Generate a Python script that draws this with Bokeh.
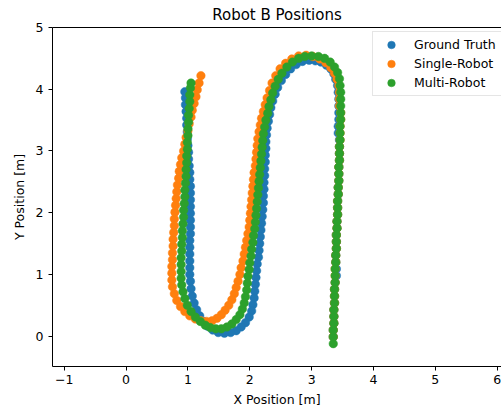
from bokeh.plotting import figure
from bokeh.models import (ColumnDataSource, Legend, LegendItem, LinearAxis,
                          FixedTicker, Range1d)
from bokeh.embed import file_html
from bokeh.resources import INLINE

title_text = "Robot B Positions"
x_label = "X Position [m]"
y_label = "Y Position [m]"
series_names = ["Ground Truth", "Single-Robot", "Multi-Robot"]
series_colors = ["#1f77b4", "#ff7f0e", "#2ca02c"]
x_ticks = [-1, 0, 1, 2, 3, 4, 5, 6]
y_ticks = [0, 1, 2, 3, 4, 5]

# Ground Truth (blue)
gt_points = [
    (3.35, -0.01), (3.35, 0.10), (3.36, 0.21), (3.36, 0.32), (3.36, 0.43), (3.37, 0.54),
    (3.37, 0.65), (3.37, 0.76), (3.38, 0.87), (3.40, 0.98), (3.40, 1.09), (3.39, 1.20),
    (3.39, 1.31), (3.40, 1.42), (3.40, 1.53), (3.40, 1.64), (3.41, 1.75), (3.41, 1.86),
    (3.42, 1.97), (3.42, 2.08), (3.42, 2.19), (3.43, 2.30), (3.43, 2.41), (3.44, 2.52),
    (3.44, 2.63), (3.44, 2.74), (3.45, 2.85), (3.45, 2.96), (3.45, 3.07), (3.45, 3.18),
    (3.43, 3.29), (3.43, 3.40), (3.44, 3.51), (3.44, 3.62), (3.44, 3.73), (3.44, 3.84),
    (3.43, 3.95), (3.42, 4.06),
    (3.39, 4.16), (3.36, 4.25), (3.31, 4.33), (3.24, 4.39), (3.15, 4.44), (3.06, 4.46),
    (2.96, 4.47), (2.85, 4.45), (2.75, 4.40), (2.66, 4.33), (2.58, 4.24), (2.51, 4.14),
    (2.45, 4.03), (2.41, 3.92), (2.37, 3.81),
    (2.34, 3.70), (2.32, 3.59), (2.30, 3.48), (2.28, 3.37), (2.27, 3.26), (2.26, 3.15),
    (2.26, 3.04), (2.25, 2.93), (2.25, 2.82), (2.24, 2.71), (2.24, 2.60), (2.23, 2.49),
    (2.23, 2.38), (2.22, 2.27), (2.22, 2.16), (2.21, 2.05), (2.20, 1.94), (2.19, 1.83),
    (2.18, 1.72), (2.17, 1.61), (2.16, 1.50), (2.15, 1.39), (2.14, 1.28), (2.12, 1.17),
    (2.11, 1.06), (2.10, 0.95), (2.09, 0.84), (2.08, 0.73), (2.07, 0.62), (2.05, 0.51),
    (2.03, 0.41),
    (1.99, 0.31), (1.93, 0.22), (1.86, 0.15), (1.78, 0.09), (1.69, 0.06), (1.59, 0.05),
    (1.49, 0.06), (1.40, 0.10), (1.32, 0.16), (1.25, 0.24), (1.19, 0.33), (1.14, 0.43),
    (1.10, 0.54), (1.07, 0.65), (1.05, 0.77), (1.04, 0.89),
    (1.03, 1.00), (1.03, 1.11), (1.03, 1.22), (1.03, 1.33), (1.03, 1.44), (1.03, 1.55),
    (1.04, 1.66), (1.04, 1.77), (1.04, 1.88), (1.04, 1.99), (1.04, 2.10), (1.04, 2.21),
    (1.04, 2.32), (1.04, 2.43), (1.03, 2.54), (1.03, 2.65), (1.02, 2.76), (1.01, 2.87),
    (1.01, 2.98), (1.00, 3.09), (0.99, 3.20), (0.99, 3.31), (0.98, 3.42), (0.98, 3.53),
    (0.97, 3.64), (0.96, 3.75), (0.96, 3.86), (0.95, 3.96),
]

# Single-Robot (orange)
sr_points = [
    (3.35, -0.01), (3.35, 0.10), (3.36, 0.21), (3.36, 0.32), (3.36, 0.43), (3.37, 0.54),
    (3.37, 0.65), (3.37, 0.76), (3.38, 0.87), (3.38, 0.98), (3.38, 1.09), (3.39, 1.20),
    (3.39, 1.31), (3.40, 1.42), (3.40, 1.53), (3.40, 1.64), (3.41, 1.75), (3.41, 1.86),
    (3.42, 1.97), (3.42, 2.08), (3.42, 2.19), (3.43, 2.30), (3.43, 2.41), (3.44, 2.52),
    (3.44, 2.63), (3.44, 2.74), (3.45, 2.85), (3.45, 2.96), (3.45, 3.07), (3.46, 3.18),
    (3.46, 3.29), (3.46, 3.40), (3.47, 3.51), (3.47, 3.62), (3.45, 3.73), (3.45, 3.84),
    (3.45, 3.95), (3.44, 4.06),
    (3.41, 4.16), (3.37, 4.26), (3.31, 4.35), (3.23, 4.43), (3.13, 4.49), (3.02, 4.53),
    (2.91, 4.55), (2.79, 4.54), (2.68, 4.49), (2.58, 4.42), (2.49, 4.33), (2.42, 4.22),
    (2.36, 4.10), (2.32, 3.98), (2.28, 3.86),
    (2.25, 3.75), (2.22, 3.64), (2.19, 3.53), (2.17, 3.42), (2.15, 3.31), (2.13, 3.20),
    (2.12, 3.09), (2.11, 2.98), (2.10, 2.87), (2.09, 2.76), (2.07, 2.65), (2.06, 2.54),
    (2.05, 2.43), (2.04, 2.32), (2.03, 2.21), (2.02, 2.10), (2.01, 1.99), (2.00, 1.88),
    (1.99, 1.77), (1.97, 1.66), (1.95, 1.55), (1.93, 1.44), (1.91, 1.33), (1.89, 1.22),
    (1.86, 1.11), (1.84, 1.00), (1.81, 0.89), (1.78, 0.79), (1.75, 0.69), (1.71, 0.59),
    (1.66, 0.50),
    (1.60, 0.42), (1.54, 0.35), (1.47, 0.29), (1.39, 0.25), (1.30, 0.24), (1.21, 0.25),
    (1.12, 0.28), (1.03, 0.33), (0.95, 0.40), (0.88, 0.48), (0.82, 0.58), (0.78, 0.69),
    (0.75, 0.80), (0.74, 0.91),
    (0.74, 1.02), (0.74, 1.13), (0.75, 1.24), (0.75, 1.35), (0.76, 1.46), (0.76, 1.57),
    (0.77, 1.68), (0.78, 1.79), (0.78, 1.90), (0.79, 2.01), (0.80, 2.12), (0.81, 2.23),
    (0.82, 2.34), (0.83, 2.45), (0.85, 2.56), (0.86, 2.67), (0.88, 2.78), (0.90, 2.89),
    (0.93, 3.00), (0.95, 3.11), (0.97, 3.22), (1.00, 3.33), (1.02, 3.44), (1.05, 3.55),
    (1.07, 3.66), (1.10, 3.77), (1.13, 3.88), (1.15, 3.99), (1.18, 4.10), (1.21, 4.22),
]

# Multi-Robot (green)
mr_points = [
    (3.35, -0.12), (3.35, -0.01), (3.35, 0.10), (3.36, 0.21), (3.36, 0.32), (3.36, 0.43),
    (3.37, 0.54), (3.37, 0.65), (3.37, 0.76), (3.38, 0.87), (3.38, 0.98), (3.38, 1.09),
    (3.39, 1.20), (3.39, 1.31), (3.40, 1.42), (3.40, 1.53), (3.40, 1.64), (3.41, 1.75),
    (3.41, 1.86), (3.42, 1.97), (3.42, 2.08), (3.42, 2.19), (3.43, 2.30), (3.43, 2.41),
    (3.44, 2.52), (3.44, 2.63), (3.44, 2.74), (3.45, 2.85), (3.45, 2.96), (3.45, 3.07),
    (3.46, 3.18), (3.46, 3.29), (3.46, 3.40), (3.47, 3.51), (3.47, 3.62), (3.47, 3.73),
    (3.47, 3.84), (3.47, 3.95), (3.46, 4.06),
    (3.45, 4.17), (3.42, 4.27), (3.37, 4.36), (3.30, 4.44), (3.21, 4.50), (3.11, 4.53),
    (3.00, 4.54), (2.89, 4.53), (2.79, 4.50), (2.69, 4.44), (2.60, 4.36), (2.52, 4.26),
    (2.46, 4.16), (2.41, 4.05), (2.37, 3.94), (2.34, 3.83),
    (2.31, 3.72), (2.29, 3.61), (2.26, 3.50), (2.24, 3.39), (2.22, 3.28), (2.21, 3.17),
    (2.20, 3.06), (2.19, 2.95), (2.18, 2.84), (2.17, 2.73), (2.16, 2.62), (2.15, 2.51),
    (2.14, 2.40), (2.13, 2.29), (2.12, 2.18), (2.11, 2.07), (2.10, 1.96), (2.09, 1.85),
    (2.08, 1.74), (2.06, 1.63), (2.05, 1.52), (2.03, 1.41), (2.02, 1.30), (2.00, 1.19),
    (1.99, 1.08), (1.97, 0.97), (1.96, 0.86), (1.95, 0.75), (1.93, 0.64), (1.91, 0.54),
    (1.88, 0.44),
    (1.84, 0.35), (1.78, 0.27), (1.71, 0.20), (1.63, 0.15), (1.54, 0.12), (1.45, 0.12),
    (1.36, 0.14), (1.28, 0.18), (1.20, 0.24), (1.12, 0.31), (1.05, 0.40), (0.99, 0.50),
    (0.95, 0.61), (0.92, 0.72), (0.90, 0.83), (0.89, 0.94),
    (0.89, 1.05), (0.89, 1.16), (0.89, 1.27), (0.90, 1.38), (0.90, 1.49), (0.91, 1.60),
    (0.91, 1.71), (0.92, 1.82), (0.93, 1.93), (0.93, 2.04), (0.94, 2.15), (0.95, 2.26),
    (0.95, 2.37), (0.96, 2.48), (0.97, 2.59), (0.97, 2.70), (0.98, 2.81), (0.98, 2.92),
    (0.99, 3.03), (0.99, 3.14), (1.00, 3.25), (1.00, 3.36), (1.01, 3.47), (1.01, 3.58),
    (1.02, 3.69), (1.03, 3.80), (1.03, 3.91), (1.04, 4.02), (1.05, 4.10),
]

series_points = [gt_points, sr_points, mr_points]

FONT = "DejaVu Sans"

p = figure(frame_width=449, frame_height=339,
           x_range=Range1d(-1.19, 6.07), y_range=Range1d(-0.49, 5.0),
           output_backend="svg", toolbar_location=None,
           min_border_left=52, min_border_right=0,
           min_border_top=26, min_border_bottom=41,
           title=title_text)
p.outline_line_color = None
p.grid.visible = False
p.background_fill_color = "white"
p.border_fill_color = "white"

p.title.text_font = FONT
p.title.text_font_size = "15px"
p.title.text_font_style = "normal"
p.title.text_color = "black"
p.title.align = "center"
p.title.standoff = 7

for ax in (p.xaxis[0], p.yaxis[0]):
    ax.axis_line_color = "black"
    ax.axis_line_width = 1
    ax.major_tick_line_color = "black"
    ax.major_tick_in = 0
    ax.major_tick_out = 4
    ax.minor_tick_line_color = None
    ax.major_label_text_font = FONT
    ax.major_label_text_font_size = "12.5px"
    ax.major_label_text_color = "black"
    ax.axis_label_text_font = FONT
    ax.axis_label_text_font_size = "12.5px"
    ax.axis_label_text_font_style = "normal"
    ax.axis_label_text_color = "black"

p.xaxis.ticker = FixedTicker(ticks=x_ticks)
p.yaxis.ticker = FixedTicker(ticks=y_ticks)
p.xaxis.major_label_overrides = {t: ("\u2212" + str(-t) if t < 0 else str(t)) for t in x_ticks}
p.xaxis.axis_label = x_label
p.yaxis.axis_label = y_label
p.xaxis.major_label_standoff = 4
p.yaxis.major_label_standoff = 5
p.xaxis.axis_label_standoff = 5
p.yaxis.axis_label_standoff = 6

top_spine = LinearAxis(ticker=FixedTicker(ticks=[]), axis_line_color="black",
                       axis_line_width=1, major_tick_line_color=None,
                       minor_tick_line_color=None, major_tick_out=0,
                       major_tick_in=0, major_label_standoff=0,
                       major_label_text_font_size="0px")
p.add_layout(top_spine, "above")

items = []
for name, color, pts in zip(series_names, series_colors, series_points):
    src = ColumnDataSource(dict(x=[q[0] for q in pts], y=[q[1] for q in pts]))
    r = p.scatter("x", "y", source=src, size=8.5, marker="circle",
                  fill_color=color, line_color=color, line_width=0.5)
    items.append(LegendItem(label=name, renderers=[r]))

legend = Legend(items=items, location=(320, 270))
legend.label_text_font = FONT
legend.label_text_font_size = "12.5px"
legend.label_text_color = "black"
legend.border_line_color = "#cccccc"
legend.background_fill_alpha = 0.8
legend.padding = 3
legend.spacing = 0
legend.margin = 0
legend.glyph_width = 30
legend.glyph_height = 19
legend.label_height = 19
legend.label_width = 100
legend.label_standoff = 8
p.add_layout(legend)

open("out.html", "w").write(file_html(p, INLINE))
